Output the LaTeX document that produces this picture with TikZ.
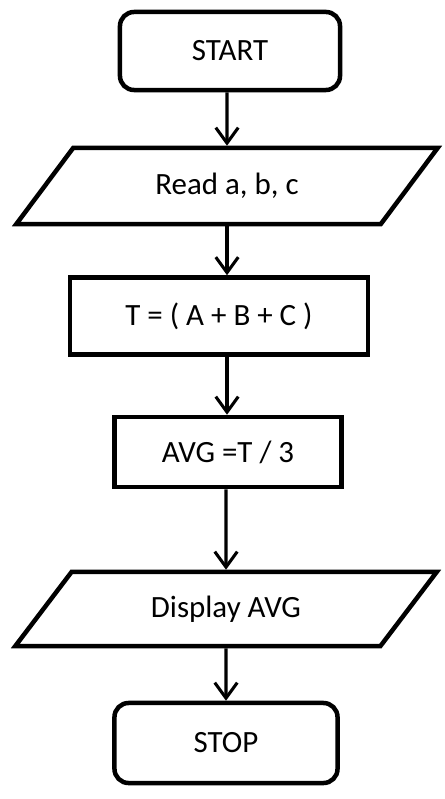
\documentclass[tikz,border=0pt]{standalone}
\usepackage{fontspec}
\setmainfont{Carlito}
\usetikzlibrary{shapes.geometric,arrows.meta}
\begin{document}
\begin{tikzpicture}[x=0.025cm,y=-0.025cm,
	every node/.style={font=\fontsize{22}{26}\selectfont,line width=3.2pt,draw},
	termbox/.style={rounded corners=10pt},
	iobox/.style={trapezium,trapezium left angle=51,trapezium right angle=129,trapezium stretches=true,minimum width=10.55cm,minimum height=1.9cm},
	link/.style={line width=2.2pt,-{Straight Barb[length=11pt,width=16pt,line width=2.2pt]}}]
	\useasboundingbox (0,0) rectangle (445,799);
	\node[termbox,minimum width=5.5cm,minimum height=1.95cm] (start) at (230,51) {START};
	\node[iobox] (read) at (227,186) {Read a, b, c};
	\node[minimum width=7.45cm,minimum height=1.925cm] (tbox) at (219,316) {T = ( A + B + C )};
	\node[minimum width=5.675cm,minimum height=1.75cm] (avg) at (228,452) {AVG =T / 3};
	\node[iobox,minimum height=1.85cm] (disp) at (226,609) {Display AVG};
	\node[termbox,minimum width=5.575cm,minimum height=2cm] (stop) at (226,743) {STOP};
	\draw[link] (start.south -| read) -- (read.north);
	\draw[link] (read.south) -- (read.south |- tbox.north);
	\draw[link] (read.south |- tbox.south) -- (read.south |- avg.north);
	\draw[link] (avg.south -| disp) -- (disp.north);
	\draw[link] (disp.south) -- (stop.north);
\end{tikzpicture}
\end{document}
